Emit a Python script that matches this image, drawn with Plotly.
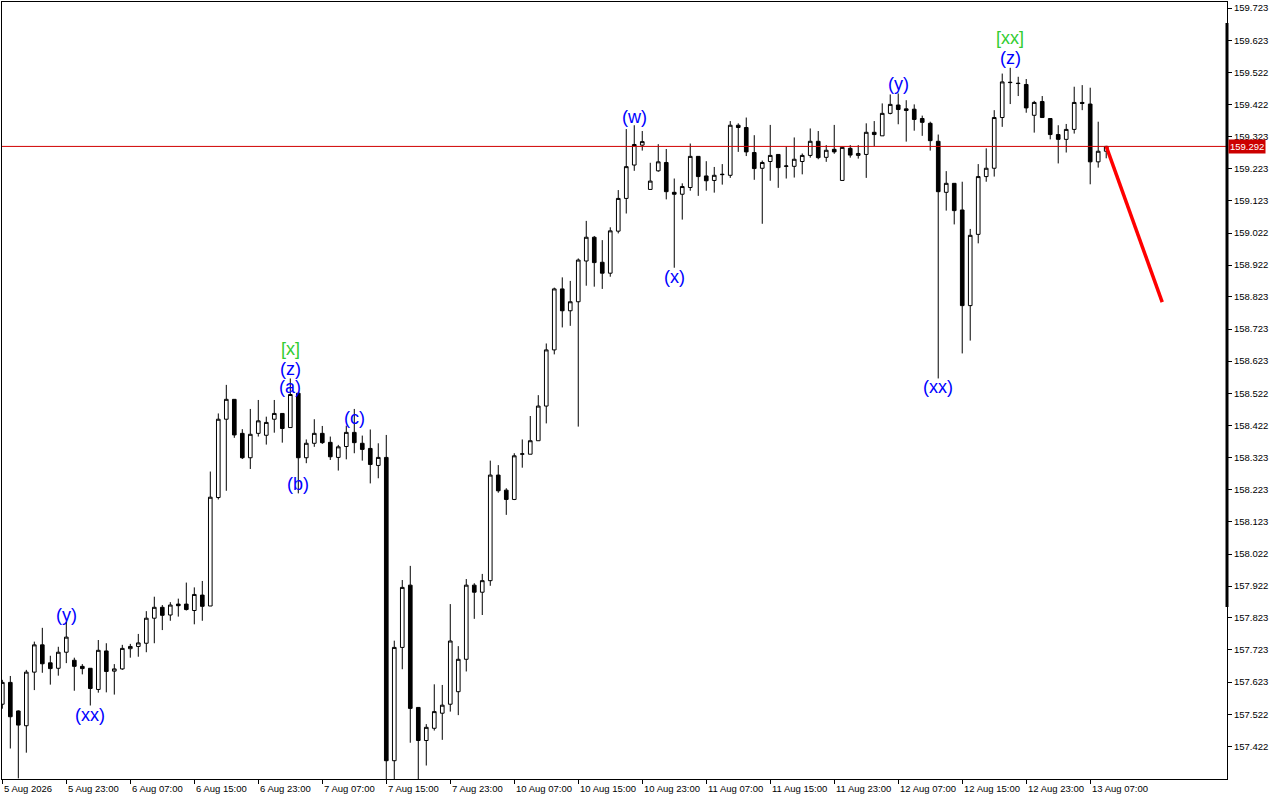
import plotly.graph_objects as go

# hourly bars, 5 Aug 15:00 -> 13 Aug 09:00 (weekend skipped)
opens = [
    157.554, 157.622, 157.533, 157.487, 157.654, 157.739, 157.683, 157.666, 157.716, 157.691,
    157.672, 157.666, 157.600, 157.720, 157.657, 157.664, 157.727, 157.734, 157.744, 157.822,
    157.856, 157.832, 157.866, 157.866, 157.846, 157.894, 157.860, 158.198, 158.442, 158.504,
    158.398, 158.322, 158.398, 158.392, 158.442, 158.460, 158.416, 158.523, 158.322, 158.367,
    158.398, 158.370, 158.323, 158.357, 158.401, 158.367, 158.351, 158.298, 158.323, 157.378,
    157.731, 157.925, 157.544, 157.441, 157.479, 157.526, 157.554, 157.593, 157.694, 157.925,
    157.903, 157.939, 158.268, 158.221, 158.192, 158.333, 158.333, 158.375, 158.483, 158.658,
    158.848, 158.780, 158.808, 158.935, 159.009, 158.931, 158.897, 159.028, 159.130, 159.234,
    159.296, 159.158, 159.216, 159.242, 159.149, 159.143, 159.164, 159.261, 159.200, 159.186,
    159.204, 159.202, 159.358, 159.351, 159.273, 159.224, 159.245, 159.267, 159.230, 159.230,
    159.245, 159.264, 159.308, 159.258, 159.283, 159.186, 159.286, 159.264, 159.267, 159.336,
    159.325, 159.395, 159.421, 159.409, 159.408, 159.379, 159.364, 159.308, 159.149, 159.177,
    159.094, 158.796, 159.018, 159.198, 159.224, 159.382, 159.492, 159.489, 159.485, 159.389,
    159.432, 159.379, 159.329, 159.314, 159.345, 159.429, 159.424, 159.244, 159.277,
]
highs = [
    157.630, 157.642, 157.535, 157.661, 157.749, 157.792, 157.705, 157.733, 157.811, 157.699,
    157.679, 157.666, 157.754, 157.744, 157.679, 157.739, 157.742, 157.773, 157.844, 157.889,
    157.863, 157.872, 157.883, 157.933, 157.918, 157.938, 158.279, 158.460, 158.549, 158.504,
    158.411, 158.474, 158.502, 158.450, 158.502, 158.460, 158.569, 158.523, 158.379, 158.442,
    158.421, 158.388, 158.362, 158.422, 158.474, 158.391, 158.410, 158.367, 158.393, 157.752,
    157.941, 157.985, 157.544, 157.492, 157.616, 157.614, 157.866, 157.735, 157.944, 157.931,
    157.960, 158.313, 158.299, 158.227, 158.336, 158.379, 158.452, 158.517, 158.678, 158.852,
    158.884, 158.873, 158.943, 159.060, 159.013, 159.000, 159.040, 159.156, 159.346, 159.358,
    159.340, 159.241, 159.299, 159.284, 159.192, 159.177, 159.301, 159.261, 159.246, 159.228,
    159.237, 159.371, 159.364, 159.382, 159.327, 159.248, 159.359, 159.267, 159.291, 159.320,
    159.270, 159.348, 159.340, 159.296, 159.359, 159.291, 159.296, 159.296, 159.364, 159.371,
    159.426, 159.454, 159.457, 159.436, 159.423, 159.388, 159.369, 159.329, 159.215, 159.177,
    159.182, 159.035, 159.237, 159.286, 159.405, 159.519, 159.537, 159.509, 159.502, 159.434,
    159.449, 159.379, 159.358, 159.362, 159.478, 159.483, 159.475, 159.369, 159.294,
]
lows = [
    157.540, 157.416, 157.323, 157.403, 157.598, 157.652, 157.615, 157.643, 157.682, 157.596,
    157.647, 157.550, 157.590, 157.591, 157.584, 157.661, 157.699, 157.702, 157.716, 157.744,
    157.785, 157.814, 157.827, 157.846, 157.803, 157.814, 157.860, 158.192, 158.219, 158.384,
    158.318, 158.287, 158.388, 158.363, 158.400, 158.369, 158.416, 158.211, 158.305, 158.356,
    158.365, 158.315, 158.282, 158.317, 158.336, 158.313, 158.242, 158.258, 157.300, 157.300,
    157.663, 157.434, 157.310, 157.363, 157.472, 157.443, 157.531, 157.520, 157.656, 157.820,
    157.832, 157.923, 158.213, 158.144, 158.190, 158.291, 158.333, 158.375, 158.429, 158.644,
    158.728, 158.733, 158.419, 158.858, 158.855, 158.848, 158.886, 159.021, 159.083, 159.216,
    159.279, 159.158, 159.213, 159.127, 158.914, 159.064, 159.154, 159.138, 159.154, 159.148,
    159.173, 159.194, 159.275, 159.262, 159.188, 159.051, 159.185, 159.163, 159.192, 159.195,
    159.205, 159.257, 159.252, 159.244, 159.269, 159.186, 159.257, 159.254, 159.194, 159.293,
    159.325, 159.392, 159.361, 159.307, 159.341, 159.325, 159.279, 158.569, 159.092, 159.049,
    158.647, 158.687, 158.990, 159.182, 159.198, 159.353, 159.424, 159.449, 159.397, 159.335,
    159.382, 159.314, 159.239, 159.273, 159.332, 159.405, 159.174, 159.226, 159.255,
]
closes = [
    157.622, 157.515, 157.489, 157.654, 157.739, 157.680, 157.665, 157.716, 157.763, 157.672,
    157.665, 157.603, 157.722, 157.656, 157.664, 157.728, 157.734, 157.745, 157.822, 157.856,
    157.831, 157.863, 157.861, 157.849, 157.896, 157.859, 158.199, 158.442, 158.504, 158.393,
    158.322, 158.395, 158.437, 158.432, 158.460, 158.413, 158.519, 158.322, 158.367, 158.398,
    158.369, 158.325, 158.356, 158.401, 158.369, 158.348, 158.301, 158.323, 157.378, 157.731,
    157.918, 157.541, 157.441, 157.482, 157.531, 157.551, 157.751, 157.694, 157.925, 157.903,
    157.939, 158.268, 158.219, 158.192, 158.328, 158.334, 158.375, 158.483, 158.658, 158.848,
    158.780, 158.808, 158.938, 159.009, 158.930, 158.897, 159.029, 159.130, 159.229, 159.298,
    159.307, 159.184, 159.244, 159.151, 159.143, 159.167, 159.261, 159.198, 159.185, 159.202,
    159.205, 159.358, 159.351, 159.275, 159.223, 159.242, 159.264, 159.226, 159.231, 159.252,
    159.264, 159.308, 159.257, 159.280, 159.275, 159.289, 159.265, 159.270, 159.336, 159.329,
    159.395, 159.423, 159.407, 159.404, 159.376, 159.367, 159.310, 159.151, 159.177, 159.092,
    158.796, 159.015, 159.198, 159.224, 159.382, 159.493, 159.491, 159.488, 159.412, 159.429,
    159.382, 159.329, 159.314, 159.345, 159.429, 159.426, 159.244, 159.277, 159.292,
]

# time axis labels (every 8th bar)
time_tick_bars = [0, 8, 16, 24, 32, 40, 48, 56, 64, 72, 80, 88, 96, 104, 112, 120, 128, 136]
time_tick_text = [
    "5 Aug 2026", "5 Aug 23:00", "6 Aug 07:00", "6 Aug 15:00", "6 Aug 23:00",
    "7 Aug 07:00", "7 Aug 15:00", "7 Aug 23:00", "10 Aug 07:00", "10 Aug 15:00",
    "10 Aug 23:00", "11 Aug 07:00", "11 Aug 15:00", "11 Aug 23:00", "12 Aug 07:00",
    "12 Aug 15:00", "12 Aug 23:00", "13 Aug 07:00",
]

price_ticks = [
    159.723, 159.623, 159.522, 159.422, 159.323, 159.223, 159.123, 159.022,
    158.922, 158.823, 158.723, 158.623, 158.522, 158.422, 158.323, 158.223,
    158.123, 158.022, 157.922, 157.823, 157.723, 157.623, 157.522, 157.422,
]

bid_price = 159.292

# wave labels: text, bar, price, colour
wave_text = ["(y)", "(xx)", "[x]", "(z)", "(a)", "(b)", "(c)", "(w)", "(x)", "(y)", "(xx)", "[xx]", "(z)"]
wave_bar = [8, 11, 36, 36, 36, 37, 44, 79, 84, 112, 117, 126, 126]
wave_price = [157.832, 157.521, 158.661, 158.599, 158.542, 158.240, 158.446,
              159.383, 158.885, 159.486, 158.542, 159.630, 159.567]
wave_green = ["[x]", "[xx]"]

# projected move
proj_bars = [138, 145]
proj_prices = [159.292, 158.807]

bars = list(range(len(opens)))

fig = go.Figure()
fig.add_trace(
    go.Candlestick(
        x=bars,
        open=opens,
        high=highs,
        low=lows,
        close=closes,
        increasing=dict(fillcolor="white", line=dict(color="black", width=1)),
        decreasing=dict(fillcolor="black", line=dict(color="black", width=1)),
        whiskerwidth=0,
        hoverinfo="skip",
        showlegend=False,
    )
)
fig.add_trace(
    go.Scatter(
        x=proj_bars, y=proj_prices, mode="lines",
        line=dict(color="#ff0000", width=3.5),
        hoverinfo="skip", showlegend=False,
    )
)

# bid line
fig.add_shape(type="line", xref="paper", x0=0, x1=1, yref="y", y0=bid_price, y1=bid_price,
              line=dict(color="#d00000", width=1))
# thick marker on the right border
fig.add_shape(type="line", xref="paper", x0=1, x1=1, yref="paper", y0=0.2214, y1=0.973,
              line=dict(color="black", width=3))

annotations = []
for t, b, p in zip(wave_text, wave_bar, wave_price):
    annotations.append(dict(
        x=b, y=p, xref="x", yref="y", text=t, showarrow=False,
        xanchor="center", yanchor="middle",
        font=dict(family="Liberation Sans, Arial", size=18,
                  color="#32cd32" if t in wave_green else "#0000ff"),
    ))
for b, t in zip(time_tick_bars, time_tick_text):
    annotations.append(dict(
        x=b, y=0, xref="x", yref="paper", text=t, showarrow=False,
        xanchor="left", yanchor="top", yshift=-2,
        font=dict(family="Liberation Sans, Arial", size=9.5, color="black"),
    ))
annotations.append(dict(
    x=1, y=bid_price, xref="paper", yref="y", text=f"{bid_price:.3f}", showarrow=False,
    xanchor="left", yanchor="middle", xshift=1, bgcolor="#cc0000", borderpad=1,
    font=dict(family="Liberation Sans, Arial", size=9.5, color="white"),
))

fig.update_layout(
    width=1280,
    height=800,
    margin=dict(l=2, r=53, t=2, b=21),
    plot_bgcolor="white",
    paper_bgcolor="white",
    boxgap=0.35,
    annotations=annotations,
    xaxis=dict(
        range=[-0.04, 153.1],
        rangeslider=dict(visible=False),
        showgrid=False,
        zeroline=False,
        showline=True,
        mirror=True,
        linecolor="black",
        linewidth=1,
        tickmode="array",
        tickvals=time_tick_bars,
        showticklabels=False,
        ticks="outside",
        ticklen=4,
        tickcolor="black",
    ),
    yaxis=dict(
        side="right",
        range=[157.321, 159.742],
        showgrid=False,
        zeroline=False,
        showline=True,
        mirror=True,
        linecolor="black",
        linewidth=1,
        tickmode="array",
        tickvals=price_ticks,
        ticktext=[f"{v:.3f}" for v in price_ticks],
        ticks="outside",
        ticklen=4,
        tickcolor="black",
        tickfont=dict(family="Liberation Sans, Arial", size=9.5, color="black"),
    ),
)

# the page's default body margin would shift the figure by 8px
fig.write_html(
    "out.html",
    config={"displayModeBar": False},
    post_script="document.body.style.margin = '0';",
)
